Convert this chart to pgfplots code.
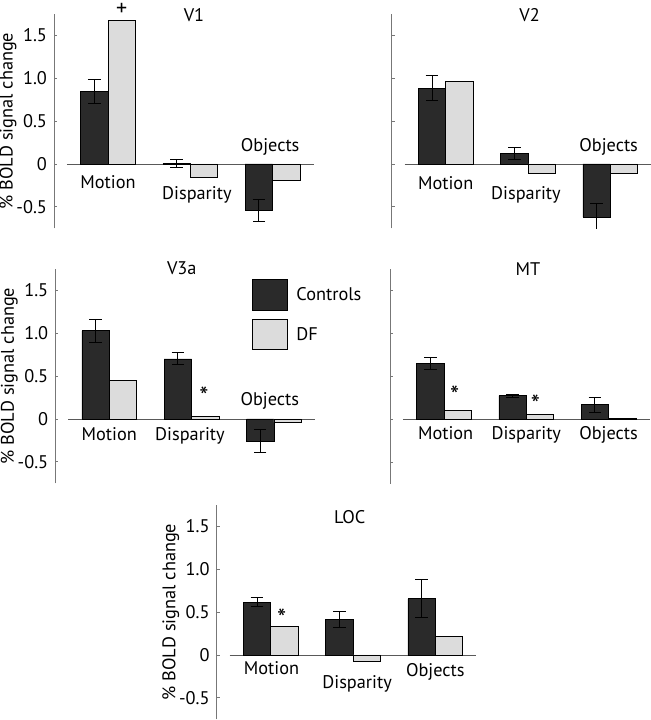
\documentclass[border=0pt]{standalone}
\usepackage{fontspec}
\setmainfont{PT Sans}
\usepackage{pgfplots}
\pgfplotsset{compat=1.18}
\definecolor{ctrl}{HTML}{2A2A2A}
\definecolor{dfc}{HTML}{DCDCDC}
\definecolor{axgray}{HTML}{777777}
\newcommand\fs{\fontsize{18.3bp}{21bp}\selectfont}
\newcommand\sig{{\fontsize{26bp}{26bp}\selectfont *}}
\pgfplotsset{
  panel/.style={
    x=82.3bp, y=85.8bp,
    xmin=-0.655, xmax=2.52, ymin=-0.75, ymax=1.75,
    axis x line=none, axis y line=left,
    axis line style={-, draw=axgray, line width=1bp},
    ytick={-0.5,0,0.5,1,1.5}, yticklabels={-0.5,0,0.5,1.0,1.5},
    tick align=inside, major tick length=3bp,
    tick style={draw=axgray, line width=0.8bp},
    /pgf/number format/assume math mode=true,
    yticklabel style={font=\fs, inner sep=0pt, xshift=-7bp},
    every axis y label/.style={at={([xshift=-46bp]axis description cs:0,0.5)}, rotate=90, anchor=center, font=\fs},
    clip mode=individual,
    anchor=origin,
  },
  nolabels/.style={yticklabels={}},
  mybar/.style={ybar, bar width=27.4bp, draw=black, line width=0.8bp,
    legend image code/.code={\draw[##1] (0bp,-15.3bp) rectangle (35bp,15.3bp);}},
  ctrlbar/.style={mybar, fill=ctrl, bar shift=-13.7bp},
  dfbar/.style={mybar, fill=dfc, bar shift=13.7bp},
  errs/.style={forget plot, draw=none, mark=none,
    error bars/.cd, y dir=both, y explicit,
    error bar style={draw=black, line width=0.9bp},
    error mark options={draw=black, line width=0.9bp, mark size=6.3bp, rotate=90}},
  zeroline/.style={forget plot, draw=black!65, line width=0.9bp, mark=none},
}
\begin{document}
\begin{tikzpicture}[font=\fs]
\useasboundingbox (0,0) rectangle (651bp,720bp);

% ---------- V1 ----------
\begin{axis}[panel, at={(108bp,556bp)}, ylabel={\% BOLD signal change}]
\addplot[zeroline] coordinates {(-0.5,0) (2.5,0)};
\addplot[ctrlbar] coordinates {(0,0.845) (1,0.005) (2,-0.54)};
\addplot[dfbar] coordinates {(0,1.67) (1,-0.155) (2,-0.195)};
\addplot[errs] coordinates {(-0.1665,0.845) +- (0,0.135) (0.8335,0.005) +- (0,0.045) (1.8335,-0.54) +- (0,0.125)};
\node[anchor=base] at (axis cs:1.045,1.66) {V1};
\node[anchor=base] at (axis cs:0,-0.284) {Motion};
\node[anchor=base] at (axis cs:1.08,-0.41) {Disparity};
\node[anchor=base] at (axis cs:1.97,0.144) {Objects};
\node at (axis cs:0.167,1.8) {\fontsize{22bp}{22bp}\selectfont +};
\end{axis}

% ---------- V2 ----------
\begin{axis}[panel, nolabels, at={(445.7bp,556bp)}]
\addplot[zeroline] coordinates {(-0.5,0) (2.52,0)};
\addplot[ctrlbar] coordinates {(0,0.885) (1,0.125) (2,-0.62)};
\addplot[dfbar] coordinates {(0,0.96) (1,-0.105) (2,-0.105)};
\addplot[errs] coordinates {(-0.1665,0.885) +- (0,0.145) (0.8335,0.125) +- (0,0.07) (1.8335,-0.62) +- (0,0.16)};
\node[anchor=base] at (axis cs:1.02,1.66) {V2};
\node[anchor=base] at (axis cs:0,-0.30) {Motion};
\node[anchor=base] at (axis cs:0.975,-0.41) {Disparity};
\node[anchor=base] at (axis cs:1.98,0.144) {Objects};
\end{axis}

% ---------- V3a ----------
\begin{axis}[panel, at={(109.3bp,301bp)}, ylabel={\% BOLD signal change},
  legend style={at={(0.751,0.951)}, anchor=north west, draw=none, fill=none,
    inner sep=0pt, outer sep=0pt, row sep=8bp, column sep=9bp, font=\fs,
    nodes={inner sep=0pt}},
  legend cell align=left]
\addplot[zeroline] coordinates {(-0.5,0) (2.5,0)};
\addplot[ctrlbar] coordinates {(0,1.027) (1,0.70) (2,-0.26)};
\addplot[dfbar] coordinates {(0,0.445) (1,0.027) (2,-0.04)};
\addplot[errs] coordinates {(-0.1665,1.027) +- (0,0.13) (0.8335,0.70) +- (0,0.07) (1.8335,-0.26) +- (0,0.135)};
\legend{Controls,DF}
\node[anchor=base] at (axis cs:0.88,1.68) {V3a};
\node[anchor=base] at (axis cs:0,-0.245) {Motion};
\node[anchor=base] at (axis cs:0.98,-0.245) {Disparity};
\node[anchor=base] at (axis cs:1.95,0.155) {Objects};
\node at (axis cs:1.15,0.27) {\sig};
\end{axis}

% ---------- MT ----------
\begin{axis}[panel, nolabels, at={(444bp,300.7bp)}]
\addplot[zeroline] coordinates {(-0.5,0) (2.5,0)};
\addplot[ctrlbar] coordinates {(0,0.655) (1,0.275) (2,0.17)};
\addplot[dfbar] coordinates {(0,0.108) (1,0.058) (2,0.01)};
\addplot[errs] coordinates {(-0.1665,0.655) +- (0,0.07) (0.8335,0.275) +- (0,0.02) (1.8335,0.17) +- (0,0.09)};
\node[anchor=base] at (axis cs:1.02,1.68) {MT};
\node[anchor=base] at (axis cs:0.02,-0.24) {Motion};
\node[anchor=base] at (axis cs:1.0,-0.24) {Disparity};
\node[anchor=base] at (axis cs:2.0,-0.24) {Objects};
\node at (axis cs:0.13,0.275) {\sig};
\node at (axis cs:1.11,0.178) {\sig};
\end{axis}

% ---------- LOC ----------
\begin{axis}[panel, at={(270.7bp,65bp)}, ylabel={\% BOLD signal change}]
\addplot[zeroline] coordinates {(-0.5,0) (2.5,0)};
\addplot[ctrlbar] coordinates {(0,0.615) (1,0.415) (2,0.655)};
\addplot[dfbar] coordinates {(0,0.33) (1,-0.078) (2,0.218)};
\addplot[errs] coordinates {(-0.1665,0.615) +- (0,0.05) (0.8335,0.415) +- (0,0.09) (1.8335,0.655) +- (0,0.22)};
\node[anchor=base] at (axis cs:0.96,1.535) {LOC};
\node[anchor=base] at (axis cs:0.01,-0.233) {Motion};
\node[anchor=base] at (axis cs:1.05,-0.39) {Disparity};
\node[anchor=base] at (axis cs:2.0,-0.245) {Objects};
\node at (axis cs:0.134,0.426) {\sig};
\end{axis}
\end{tikzpicture}
\end{document}
